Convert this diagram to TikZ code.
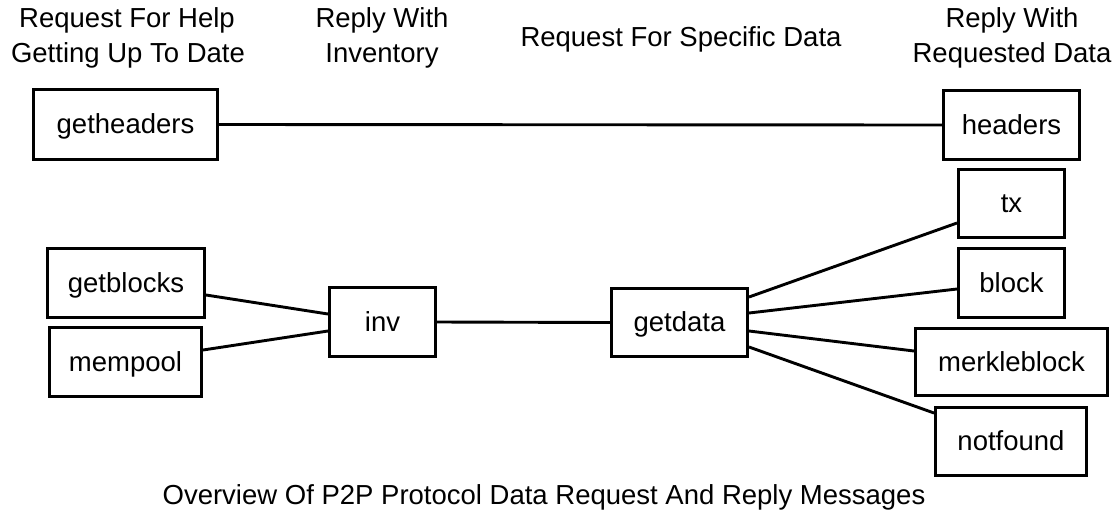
\documentclass[tikz,border=0pt]{standalone}
\usepackage{fontspec}
\setmainfont{Liberation Sans}
\usetikzlibrary{calc}
\begin{document}
\begin{tikzpicture}[x=1pt,y=-1pt,
  msg/.style={draw=black, line width=3pt, fill=white, inner sep=0pt,
    text height=23pt, text depth=5pt,
    font=\fontsize{27.5}{32}\selectfont},
  link/.style={draw=black, line width=2.9pt},
  lbl/.style={anchor=base, inner sep=0pt, font=\fontsize{27.5}{32}\selectfont}]
\useasboundingbox (0,0) rectangle (1115,517);

% column headings
\node[lbl] (h1a) at (127,27) {Request For Help};
\node[lbl] (h1b) at (128,62) {Getting Up To Date};
\node[lbl] (h2a) at (382,27) {Reply With};
\node[lbl] (h2b) at (382,62) {Inventory};
\node[lbl] (h3)  at (681,46) {Request For Specific Data};
\node[lbl] (h4a) at (1012,27) {Reply With};
\node[lbl] (h4b) at (1012,62) {Requested Data};

% message boxes
\node[msg, minimum width=184pt, minimum height=70pt] (getheaders) at (125.5,124.5) {getheaders};
\node[msg, minimum width=136pt, minimum height=69pt] (headers) at (1011.5,125) {headers};
\node[msg, minimum width=157pt, minimum height=69pt] (getblocks) at (126,283) {getblocks};
\node[msg, minimum width=152pt, minimum height=69pt] (mempool) at (125.5,362) {mempool};
\node[msg, minimum width=106pt, minimum height=69pt] (inv) at (382.5,322) {inv};
\node[msg, minimum width=136pt, minimum height=68pt] (getdata) at (679.5,322.5) {getdata};
\node[msg, minimum width=106pt, minimum height=68pt] (tx) at (1011.5,203.5) {tx};
\node[msg, minimum width=106pt, minimum height=69pt] (block) at (1011.5,283) {block};
\node[msg, minimum width=192pt, minimum height=67pt] (merkleblock) at (1011.5,362) {merkleblock};
\node[msg, minimum width=151pt, minimum height=68pt] (notfound) at (1011,441.5) {notfound};

% connectors
\draw[link] (getheaders.east) -- (headers.west);
\draw[link] ($(getblocks.east)+(0,12)$) -- ($(inv.west)+(0,-8)$);
\draw[link] ($(mempool.east)+(0,-12)$) -- ($(inv.west)+(0,9)$);
\draw[link] (inv.east) -- (getdata.west);
\draw[link] ($(getdata.east)+(0,-25.5)$) -- ($(tx.west)+(0,19.5)$);
\draw[link] ($(getdata.east)+(0,-9.5)$) -- ($(block.west)+(0,6)$);
\draw[link] ($(getdata.east)+(0,8.5)$) -- ($(merkleblock.west)+(0,-11)$);
\draw[link] ($(getdata.east)+(0,24.5)$) -- ($(notfound.west)+(0,-28.5)$);

% caption
\node[lbl] (caption) at (544,504) {Overview Of P2P Protocol Data Request And Reply Messages};
\end{tikzpicture}
\end{document}
